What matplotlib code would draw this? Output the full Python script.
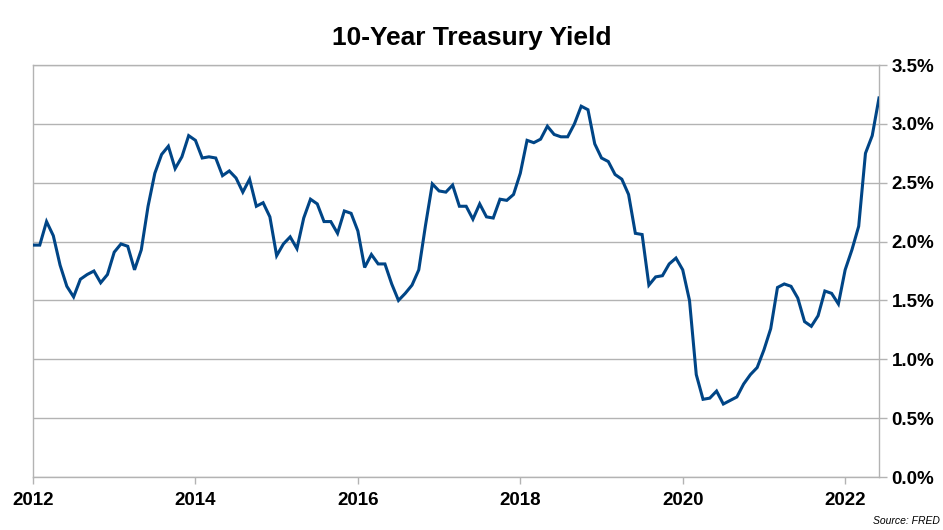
import matplotlib
matplotlib.use("Agg")
import matplotlib.pyplot as plt
import numpy as np

plt.rcParams['font.family'] = ['Liberation Sans', 'DejaVu Sans']

start_year = 2012
# Monthly 10-year Treasury yield (%), Jan 2012 - Jun 2022
yields = [
    1.97, 1.97, 2.17, 2.05, 1.80, 1.62, 1.53, 1.68, 1.72, 1.75, 1.65, 1.72,  # 2012
    1.91, 1.98, 1.96, 1.76, 1.93, 2.30, 2.58, 2.74, 2.81, 2.62, 2.72, 2.90,  # 2013
    2.86, 2.71, 2.72, 2.71, 2.56, 2.60, 2.54, 2.42, 2.53, 2.30, 2.33, 2.21,  # 2014
    1.88, 1.98, 2.04, 1.94, 2.20, 2.36, 2.32, 2.17, 2.17, 2.07, 2.26, 2.24,  # 2015
    2.09, 1.78, 1.89, 1.81, 1.81, 1.64, 1.50, 1.56, 1.63, 1.76, 2.14, 2.49,  # 2016
    2.43, 2.42, 2.48, 2.30, 2.30, 2.19, 2.32, 2.21, 2.20, 2.36, 2.35, 2.40,  # 2017
    2.58, 2.86, 2.84, 2.87, 2.98, 2.91, 2.89, 2.89, 3.00, 3.15, 3.12, 2.83,  # 2018
    2.71, 2.68, 2.57, 2.53, 2.40, 2.07, 2.06, 1.63, 1.70, 1.71, 1.81, 1.86,  # 2019
    1.76, 1.50, 0.87, 0.66, 0.67, 0.73, 0.62, 0.65, 0.68, 0.79, 0.87, 0.93,  # 2020
    1.08, 1.26, 1.61, 1.64, 1.62, 1.52, 1.32, 1.28, 1.37, 1.58, 1.56, 1.47,  # 2021
    1.76, 1.93, 2.13, 2.75, 2.90, 3.22,                                      # 2022
]
x_ticks = [2012, 2014, 2016, 2018, 2020, 2022]
y_ticks = [0.0, 0.5, 1.0, 1.5, 2.0, 2.5, 3.0, 3.5]
title = "10-Year Treasury Yield"
source = "Source: FRED"

t = start_year + np.arange(len(yields)) / 12.0

fig = plt.figure(figsize=(9.43, 5.30), dpi=100)
ax = fig.add_axes([33 / 943, 1 - 477 / 530, (879 - 33) / 943, (477 - 65) / 530])

ax.plot(t, yields, color='#004586', linewidth=2.2, solid_joinstyle='miter', zorder=3)

ax.set_xlim(t[0], t[-1])
ax.set_ylim(0, 3.5)
ax.set_xticks(x_ticks)
ax.set_xticklabels([str(v) for v in x_ticks])
ax.set_yticks(y_ticks)
ax.set_yticklabels([f"{v:.1f}%" for v in y_ticks])

ax.yaxis.tick_right()
ax.yaxis.set_label_position('right')
ax.grid(axis='y', color='#b3b3b3', linewidth=1.0, zorder=1)

for s in ax.spines.values():
    s.set_color('#b3b3b3')
    s.set_linewidth(1.0)

ax.tick_params(axis='y', which='both', right=True, left=False, length=6, width=1.0,
               color='#b3b3b3', labelsize=13.5, pad=3)
ax.tick_params(axis='x', which='both', length=5, width=1.0, color='#b3b3b3',
               labelsize=13.5, pad=6)
for lbl in ax.get_xticklabels() + ax.get_yticklabels():
    lbl.set_fontweight('bold')

fig.text(0.5, 1 - 38 / 530, title, ha='center', va='center', fontsize=19, fontweight='bold')
fig.text(940 / 943, 1 - 521 / 530, source, ha='right', va='center', fontsize=7.5, style='italic')

fig.savefig('out.png', dpi=100)
